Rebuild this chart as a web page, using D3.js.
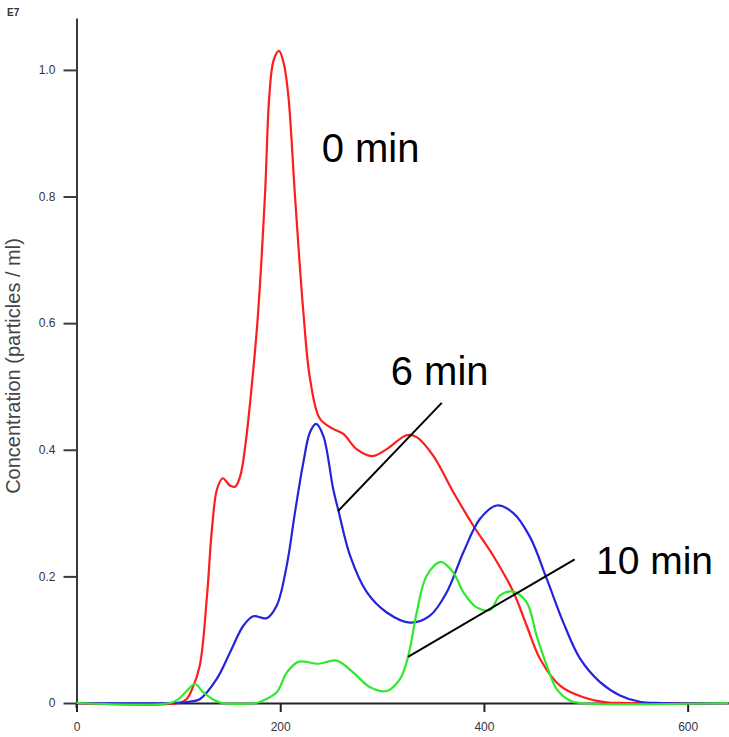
<!DOCTYPE html>
<html>
<head>
<meta charset="utf-8">
<script src="https://cdn.jsdelivr.net/npm/d3@7"></script>
<style>
  body { margin: 0; background: #fff; }
  svg { display: block; font-family: Arial, "Liberation Sans", sans-serif; }
</style>
</head>
<body>
<div id="chart"></div>
<script>
// Particle size distributions (size in nm, concentration in 1E7 particles/ml)

const xTicks = [0, 200, 400, 600];
const yTicks = [0, 0.2, 0.4, 0.6, 0.8, 1.0];

// 0 min
const sizes0 = [0, 100, 108, 113, 121, 128, 133, 138, 143.5, 151, 156, 161, 166, 172, 178, 185, 189.3, 193.5, 198.8, 203.5, 208, 214.5, 222.7,
                229.3, 239, 252, 262, 275, 290, 304.6, 324, 334, 350, 370, 389.6, 409, 429, 442, 455, 475, 497.6, 520, 540, 640];
const conc0  = [0, 0, 0.006, 0.02, 0.059, 0.167, 0.275, 0.338, 0.355, 0.343, 0.342, 0.36, 0.41, 0.5, 0.61, 0.801, 0.959, 1.015, 1.03, 1.01, 0.959, 0.801, 0.618,
                0.512, 0.449, 0.433, 0.425, 0.401, 0.39, 0.401, 0.423, 0.42, 0.391, 0.333, 0.28, 0.233, 0.175, 0.122, 0.07, 0.027, 0.009, 0.001, 0, 0];

// 6 min
const sizes6 = [0, 95, 110, 121, 137.7, 150.8, 163.8, 173.6, 186.7, 196.6, 206.4, 214.5, 222.7, 229.3, 235.2, 242.3, 252, 257, 268.5, 285,
                304.6, 327.4, 347, 363.5, 379.8, 396.2, 412.6, 428.9, 445.3, 461.7, 478, 494.4, 514, 533.6, 553, 575, 640];
const conc6  = [0, 0, 0.002, 0.006, 0.038, 0.08, 0.122, 0.137, 0.134, 0.154, 0.217, 0.301, 0.38, 0.428, 0.441, 0.422, 0.338, 0.305, 0.233, 0.175,
                0.143, 0.127, 0.138, 0.175, 0.238, 0.291, 0.312, 0.3, 0.262, 0.196, 0.127, 0.07, 0.033, 0.012, 0.002, 0, 0];

// 10 min
const sizes10 = [0, 92, 100, 108.2, 116.3, 124.5, 136, 143, 176, 183.4, 196.6, 206.4, 217.8, 237.4, 255.5, 271.8, 288.2, 304.6, 317.7, 325.8,
                 334, 343.8, 357.6, 370, 379.8, 392.9, 406, 415.8, 428.9, 442, 451.8, 461.7, 471.5, 484.2, 494, 640];
const conc10  = [0, 0, 0.006, 0.019, 0.03, 0.017, 0.004, 0, 0, 0.004, 0.017, 0.048, 0.065, 0.062, 0.067, 0.048, 0.025, 0.019, 0.038, 0.075,
                 0.143, 0.201, 0.223, 0.206, 0.175, 0.151, 0.147, 0.17, 0.176, 0.159, 0.106, 0.059, 0.022, 0.004, 0, 0];

const labels  = ["0 min", "6 min", "10 min"];
const colours = ["#ff1c1c", "#2424dc", "#2ee82e"];

const width = 729, height = 737;
const margin = { top: 18, right: 0, bottom: 34, left: 76.5 };

const svg = d3.select("#chart").append("svg")
    .attr("width", width)
    .attr("height", height);

const x = d3.scaleLinear()
    .domain([0, 640.6])
    .range([margin.left, width - margin.right]);

const y = d3.scaleLinear()
    .domain([0, 1.082])
    .range([703, margin.top]);

// Y axis
const yAxis = svg.append("g")
    .attr("transform", "translate(" + margin.left + ",0)")
    .call(d3.axisLeft(y).tickValues(yTicks).tickSize(13).tickPadding(8).tickSizeOuter(0)
        .tickFormat(d => d === 0 ? "0" : d3.format(".1f")(d)));
yAxis.select(".domain").attr("stroke", "#3a3a3a").attr("stroke-width", 2);
yAxis.selectAll(".tick line").attr("stroke", "#3a3a3a").attr("stroke-width", 2);
yAxis.selectAll(".tick text").attr("fill", "#334").style("font-size", "12px");

// little extension of the y axis below the x axis
svg.append("line")
    .attr("x1", margin.left).attr("x2", margin.left)
    .attr("y1", y(0)).attr("y2", y(0) + 5)
    .attr("stroke", "#3a3a3a").attr("stroke-width", 2);

// X axis
const xAxis = svg.append("g")
    .attr("transform", "translate(0," + y(0) + ")")
    .call(d3.axisBottom(x).tickValues(xTicks).tickSize(9).tickPadding(10).tickSizeOuter(0));
xAxis.select(".domain").attr("stroke", "#222").attr("stroke-width", 2);
xAxis.selectAll(".tick line").attr("stroke", "#222").attr("stroke-width", 2);
xAxis.selectAll(".tick text").attr("fill", "#334").style("font-size", "12px");

// Exponent note
svg.append("text").text("E7")
    .attr("x", 7).attr("y", 16)
    .attr("fill", "#333")
    .style("font-size", "10px")
    .style("font-weight", "bold");

// Y axis title
svg.append("text").text("Concentration (particles / ml)")
    .attr("transform", "translate(20," + 366 + ") rotate(-90)")
    .attr("text-anchor", "middle")
    .attr("fill", "#444")
    .style("font-size", "20px");

// Curves
const seriesX = [sizes0, sizes6, sizes10];
const seriesY = [conc0, conc6, conc10];
const line = d3.line()
    .x(d => x(d[0]))
    .y(d => y(Math.max(0, d[1])))
    .curve(d3.curveCatmullRom.alpha(0.5));

for ( let i = 0; i < seriesX.length; i++ ) {
    svg.append("path")
        .datum(d3.zip(seriesX[i], seriesY[i]))
        .attr("fill", "none")
        .attr("stroke", colours[i])
        .attr("stroke-width", 2.2)
        .attr("d", line);
}

// Annotations (in data units)
const notes = [
    { text: labels[0], x: 240.7, y: 0.855, size: 40 },
    { text: labels[1], x: 308.5, y: 0.502, size: 40, from: [358.6, 0.474], to: [256.7, 0.303] },
    { text: labels[2], x: 510,   y: 0.204, size: 39, from: [489.1, 0.227], to: [325.5, 0.073] }
];
notes.forEach(n => {
    if ( n.from ) {
        svg.append("line")
            .attr("x1", x(n.from[0])).attr("y1", y(n.from[1]))
            .attr("x2", x(n.to[0])).attr("y2", y(n.to[1]))
            .attr("stroke", "#000").attr("stroke-width", 2);
    }
    svg.append("text").text(n.text)
        .attr("x", x(n.x)).attr("y", y(n.y))
        .attr("fill", "#000")
        .style("font-size", n.size + "px");
});
</script>
</body>
</html>
